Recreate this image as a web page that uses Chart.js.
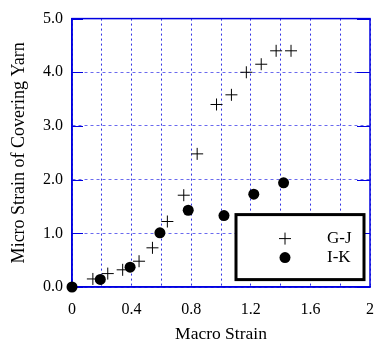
<!DOCTYPE html>
<html lang="en">

<head>
  <meta charset="UTF-8">
  <title>Micro vs Macro Strain</title>
  <style>
    body { margin: 0; background: #fff; }
    #wrap { width: 387px; height: 347px; }
  </style>
</head>

<body>
  <script src="https://cdn.jsdelivr.net/npm/chart.js"></script>

  <div id="wrap"><canvas id="strainChart"></canvas></div>
  <script>
    // G-J (crosses)
    const gjX = [0.14, 0.24, 0.34, 0.45, 0.54, 0.64, 0.75, 0.84, 0.97, 1.07, 1.17, 1.27, 1.37, 1.47];
    const gjY = [0.15, 0.25, 0.32, 0.48, 0.73, 1.22, 1.71, 2.48, 3.40, 3.58, 4.00, 4.15, 4.40, 4.40];
    // I-K (dots)
    const ikX = [0, 0.19, 0.39, 0.59, 0.78, 1.02, 1.22, 1.42];
    const ikY = [0, 0.14, 0.37, 1.01, 1.43, 1.33, 1.73, 1.94];

    const seriesNames = ['G-J', 'I-K'];
    const xTickLabels = ['0', '0.4', '0.8', '1.2', '1.6', '2'];
    const yTickLabels = ['0.0', '1.0', '2.0', '3.0', '4.0', '5.0'];

    const blue = '#0000e0';
    const serif = 'Liberation Serif';

    const toPoints = (xs, ys) => xs.map((x, i) => ({ x: x, y: ys[i] }));

    // blue frame + little solid ticks inside on the y axis
    const frame = {
      id: 'frame',
      beforeDatasetsDraw(chart) {
        const { ctx, chartArea: a, scales } = chart;
        ctx.save();
        ctx.strokeStyle = blue;
        ctx.lineWidth = 1.5;
        ctx.strokeRect(a.left, a.top, a.right - a.left, a.bottom - a.top);
        ctx.lineWidth = 1;
        yTickLabels.forEach(t => {
          const y = Math.round(scales.y.getPixelForValue(parseFloat(t))) + 0.5;
          ctx.beginPath();
          ctx.moveTo(a.left, y); ctx.lineTo(a.left + 11, y);
          ctx.moveTo(a.right, y); ctx.lineTo(a.right - 13, y);
          ctx.stroke();
        });
        ctx.restore();
      }
    };

    // boxed legend inside the plot
    const boxLegend = {
      id: 'boxLegend',
      afterDatasetsDraw(chart) {
        const { ctx, chartArea: a } = chart;
        const left = a.left + 164, top = a.top + 196, w = 128, h = 65;
        ctx.save();
        ctx.fillStyle = '#fff';
        ctx.fillRect(left, top, w, h);
        ctx.strokeStyle = '#000';
        ctx.lineWidth = 3;
        ctx.strokeRect(left, top, w, h);

        const mx = left + 49;
        const rows = [top + 24, top + 43];
        // cross
        ctx.lineWidth = 1;
        ctx.beginPath();
        ctx.moveTo(mx - 6, rows[0]); ctx.lineTo(mx + 6, rows[0]);
        ctx.moveTo(mx, rows[0] - 6); ctx.lineTo(mx, rows[0] + 6);
        ctx.stroke();
        // dot
        ctx.fillStyle = '#000';
        ctx.beginPath();
        ctx.arc(mx, rows[1], 5.5, 0, Math.PI * 2);
        ctx.fill();

        ctx.font = '17px "' + serif + '"';
        ctx.textBaseline = 'middle';
        ctx.textAlign = 'left';
        ctx.fillText(seriesNames[0], left + 91, rows[0]);
        ctx.fillText(seriesNames[1], left + 91, rows[1]);
        ctx.restore();
      }
    };

    const ctx = document.getElementById('strainChart').getContext('2d');
    const strainChart = new Chart(ctx, {
      type: 'scatter',
      data: {
        datasets: [{
          label: seriesNames[0],
          data: toPoints(gjX, gjY),
          pointStyle: 'cross',
          pointRadius: 6,
          pointHoverRadius: 6,
          borderColor: '#000',
          borderWidth: 1,
          clip: false
        }, {
          label: seriesNames[1],
          data: toPoints(ikX, ikY),
          pointStyle: 'circle',
          pointRadius: 5.5,
          pointHoverRadius: 5.5,
          backgroundColor: '#000',
          borderColor: '#000',
          borderWidth: 0,
          clip: false
        }]
      },
      options: {
        responsive: true,
        maintainAspectRatio: false,
        animation: false,
        layout: { padding: { top: 17, right: 7, left: 0, bottom: 0 } },
        plugins: {
          legend: { display: false },
          tooltip: { enabled: false }
        },
        scales: {
          x: {
            type: 'linear',
            min: 0,
            max: 2,
            afterFit: s => { s.height = 60; },
            ticks: {
              stepSize: 0.2,
              autoSkip: false,
              maxRotation: 0,
              padding: 13,
              color: '#000',
              font: { family: serif, size: 16 },
              callback: v => {
                const s = String(+v.toFixed(1));
                return xTickLabels.includes(s) ? s : '';
              }
            },
            grid: { color: '#3030e6', lineWidth: 1, drawTicks: false },
            border: { color: blue, width: 1.5, dash: [2, 3] },
            title: {
              display: true,
              text: 'Macro Strain',
              color: '#000',
              font: { family: serif, size: 17.5 },
              padding: { top: 0, bottom: 2 }
            }
          },
          y: {
            type: 'linear',
            min: 0,
            max: 5,
            afterFit: s => { s.width = 72; },
            ticks: {
              stepSize: 1,
              padding: 9,
              color: '#000',
              font: { family: serif, size: 16 },
              callback: v => yTickLabels[Math.round(v)]
            },
            grid: { color: '#6a6aee', lineWidth: 1, drawTicks: false },
            border: { color: blue, width: 1.5, dash: [3, 3] },
            title: {
              display: true,
              text: 'Micro Strain of Covering Yarn',
              color: '#000',
              font: { family: serif, size: 18 },
              padding: { top: 8, bottom: 0 }
            }
          }
        }
      },
      plugins: [frame, boxLegend]
    });
  </script>
</body>

</html>
